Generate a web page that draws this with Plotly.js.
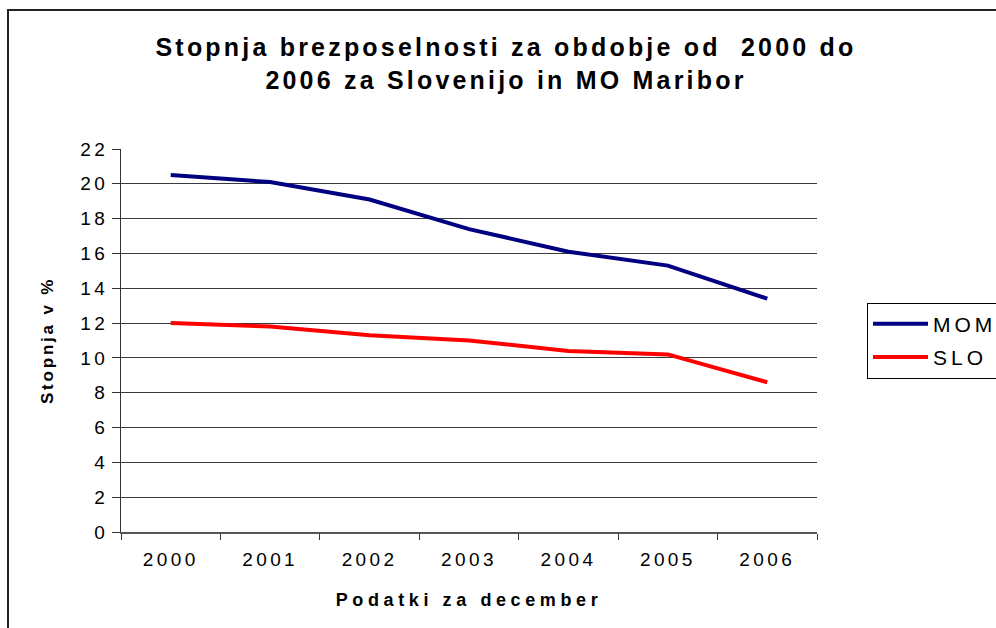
<!DOCTYPE html>
<html>
<head>
<meta charset="utf-8">
<script src="https://cdn.plot.ly/plotly-3.0.1.min.js"></script>
<style>
  html, body { margin: 0; padding: 0; background: #fff; }
  #chart { width: 996px; height: 628px; }
  .gtitle { letter-spacing: 3.2px; }
  .xtitle { letter-spacing: 4.6px; }
  .ytitle { letter-spacing: 2.8px; }
  .xtick text, .ytick text { letter-spacing: 3.4px; }
  .legendtext { letter-spacing: 4px; }
</style>
</head>
<body>
<div id="chart"></div>
<script>
const years = ['2000', '2001', '2002', '2003', '2004', '2005', '2006'];
const momValues = [20.5, 20.1, 19.1, 17.4, 16.1, 15.3, 13.4];
const sloValues = [12.0, 11.8, 11.3, 11.0, 10.4, 10.2, 8.6];
const seriesNames = ['MOM', 'SLO'];
const titleLine1 = 'Stopnja brezposelnosti za obdobje od \u00a02000 do';
const titleLine2 = '2006 za Slovenijo in MO Maribor';
const xTitle = 'Podatki za december';
const yTitle = 'Stopnja v %';

const FONT = 'Liberation Sans, Arial, sans-serif';

const traces = [
  { x: years, y: momValues, name: seriesNames[0], type: 'scatter', mode: 'lines',
    line: { color: '#000080', width: 4 }, legendgroup: 'a' },
  { x: years, y: sloValues, name: seriesNames[1], type: 'scatter', mode: 'lines',
    line: { color: '#ff0000', width: 4 }, legendgroup: 'b' }
];

const layout = {
  width: 996, height: 628,
  margin: { l: 121, r: 179, t: 149, b: 96, pad: 0, autoexpand: false },
  paper_bgcolor: '#fff', plot_bgcolor: '#fff',
  font: { family: FONT, color: '#000' },
  title: {
    text: titleLine1 + '<br>' + titleLine2,
    font: { family: FONT, size: 25, weight: 700, color: '#000' },
    x: 506 / 996, xanchor: 'center', xref: 'container',
    y: 1 - 56 / 628, yanchor: 'top', yref: 'container'
  },
  xaxis: {
    type: 'category', range: [-0.5, 6.5], fixedrange: true,
    tickson: 'boundaries', ticks: 'outside', ticklen: 6, tickcolor: '#333', tickwidth: 1,
    ticklabelstandoff: 10,
    showline: true, linecolor: '#555', linewidth: 1.5,
    showgrid: false, zeroline: false,
    tickfont: { family: FONT, size: 19, color: '#000' },
    title: { text: xTitle, font: { family: FONT, size: 18, weight: 700, color: '#000' }, standoff: 24 }
  },
  yaxis: {
    range: [0, 22], tick0: 0, dtick: 2, fixedrange: true,
    ticks: 'outside', ticklen: 8, tickcolor: '#333', tickwidth: 1,
    showline: true, linecolor: '#333', linewidth: 1,
    showgrid: true, gridcolor: '#3a3a3a', gridwidth: 1, zeroline: false,
    tickfont: { family: FONT, size: 19, color: '#000' },
    title: { text: yTitle, font: { family: FONT, size: 17, weight: 700, color: '#000' }, standoff: 22 }
  },
  legend: {
    x: 867 / 996, xanchor: 'left', xref: 'container',
    y: 0.5, yanchor: 'middle',
    bordercolor: '#000', borderwidth: 1, bgcolor: '#fff',
    font: { family: FONT, size: 21, color: '#000' },
    itemwidth: 55, tracegroupgap: 3
  },
  showlegend: true,
  shapes: [{
    type: 'rect', xref: 'paper', yref: 'paper',
    x0: (8 - 121) / 696, x1: (1200 - 121) / 696,
    y0: (532 - 700) / 383, y1: (532 - 10) / 383,
    line: { color: '#222', width: 2 }, fillcolor: 'rgba(0,0,0,0)', layer: 'below'
  }]
};

Plotly.newPlot('chart', traces, layout, { displayModeBar: false, staticPlot: true });
</script>
</body>
</html>
